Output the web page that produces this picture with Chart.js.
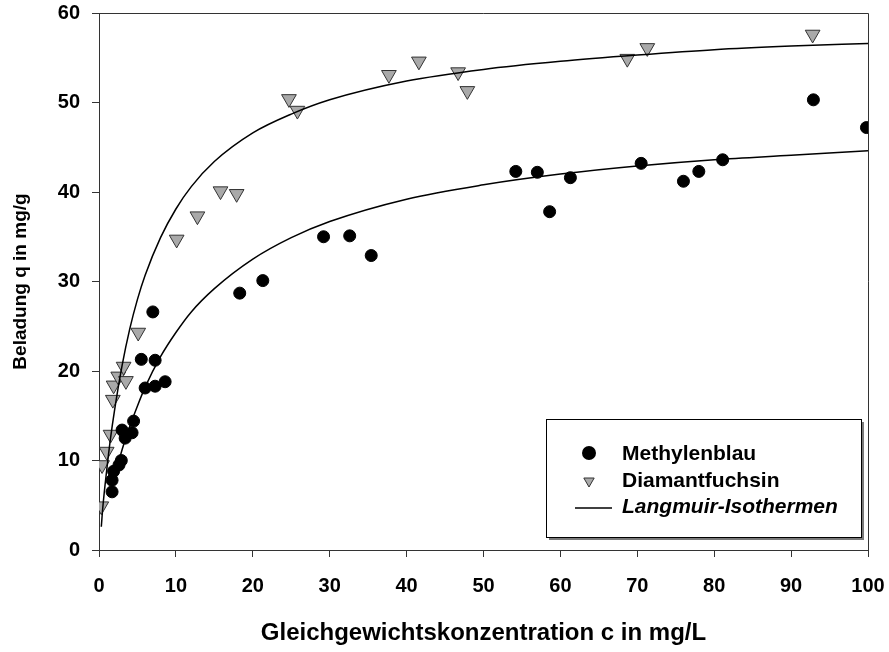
<!DOCTYPE html>
<html>
<head>
<meta charset="utf-8">
<script src="https://cdn.jsdelivr.net/npm/chart.js@4.4.1/dist/chart.umd.min.js"></script>
<style>
    html, body { margin: 0; padding: 0; background: #fff; }
    #wrap { width: 889px; height: 652px; }
</style>
</head>
<body>
<div id="wrap"><canvas id="myChart" width="889" height="652"></canvas></div>
<script>
// Messwerte Methylenblau
const mbC = [1.7, 1.7, 1.9, 2.6, 2.9, 3.4, 3.0, 4.3, 4.5, 5.5, 7.3, 6.0, 7.3, 8.6, 7.0,
             18.3, 21.3, 29.2, 32.6, 35.4, 54.2, 57.0, 58.6, 61.3, 70.5, 76.0, 78.0, 81.1, 92.9, 99.8];
const mbQ = [6.5, 7.8, 8.8, 9.5, 10.0, 12.5, 13.4, 13.1, 14.4, 21.3, 21.2, 18.1, 18.3, 18.8, 26.6,
             28.7, 30.1, 35.0, 35.1, 32.9, 42.3, 42.2, 37.8, 41.6, 43.2, 41.2, 42.3, 43.6, 50.3, 47.2];

// Messwerte Diamantfuchsin
const dfC = [0.3, 0.4, 1.0, 1.5, 1.8, 1.9, 2.5, 3.5, 3.2, 5.1, 10.1, 12.8, 15.8, 17.9,
             24.7, 25.8, 37.7, 41.6, 46.7, 47.9, 68.7, 71.3, 92.8];
const dfQ = [4.9, 9.5, 11.0, 12.9, 16.8, 18.4, 19.4, 18.9, 20.5, 24.3, 34.7, 37.3, 40.1, 39.8,
             50.4, 49.1, 53.1, 54.6, 53.4, 51.3, 54.9, 56.1, 57.6];

// Langmuir-Kurven
const fitMbC = [1.5, 2, 3, 4, 5, 6, 8, 10, 12, 15, 20, 25, 30, 40, 50, 60, 70, 80, 90, 100];
const fitMbQ = [6.3, 8.0, 11.2, 13.8, 16.1, 18.2, 21.6, 24.3, 26.6, 29.2, 32.5, 34.9, 36.7, 39.2, 40.8, 42.0, 42.9, 43.6, 44.1, 44.6];
const fitDfC = [0.3, 0.5, 1, 1.5, 2, 3, 4, 5, 6, 8, 10, 12, 15, 20, 25, 30, 40, 50, 60, 70, 80, 90, 100];
const fitDfQ = [2.6, 4.8, 8.9, 12.5, 15.5, 20.6, 24.7, 28.0, 30.7, 34.9, 38.1, 40.6, 43.4, 46.6, 48.7, 50.3, 52.4, 53.7, 54.6, 55.3, 55.9, 56.3, 56.6];

const legendLabels = ['Methylenblau', 'Diamantfuchsin', 'Langmuir-Isothermen'];
const xTitle = 'Gleichgewichtskonzentration c in mg/L';
const yTitle = 'Beladung q in mg/g';

const axisColor = '#333333';
const fontName = "'Liberation Sans', Arial, sans-serif";

function toPoints(xs, ys) {
    return xs.map((x, i) => ({x: x, y: ys[i]}));
}

// Rahmen oben/rechts
const frame = {
    id: 'frame',
    afterDraw(chart) {
        const {ctx, chartArea: a} = chart;
        ctx.save();
        ctx.strokeStyle = axisColor;
        ctx.lineWidth = 1;
        ctx.beginPath();
        ctx.moveTo(a.left, a.top + 0.5);
        ctx.lineTo(a.right + 0.5, a.top + 0.5);
        ctx.lineTo(a.right + 0.5, a.bottom);
        ctx.stroke();
        ctx.restore();
    }
};

// Legende im Diagramm
const legendBox = {
    id: 'legendBox',
    afterDraw(chart) {
        const ctx = chart.ctx;
        const ds = chart.data.datasets;
        ctx.save();
        ctx.fillStyle = '#7a7a7a';
        ctx.fillRect(549, 422, 315, 118);
        ctx.fillStyle = '#ffffff';
        ctx.fillRect(546, 419, 315, 118);
        ctx.strokeStyle = '#000';
        ctx.lineWidth = 1;
        ctx.strokeRect(546.5, 419.5, 315, 118);

        ctx.fillStyle = ds[0].backgroundColor;
        ctx.beginPath();
        ctx.arc(589, 453, 7, 0, Math.PI * 2);
        ctx.fill();

        ctx.fillStyle = ds[1].backgroundColor;
        ctx.strokeStyle = ds[1].borderColor;
        ctx.lineWidth = 1;
        Chart.helpers.drawPoint(ctx, {
            pointStyle: 'triangle', radius: 6, rotation: 180, borderWidth: 1
        }, 589, 481);

        ctx.strokeStyle = '#000';
        ctx.lineWidth = 1.5;
        ctx.beginPath();
        ctx.moveTo(575, 508);
        ctx.lineTo(612, 508);
        ctx.stroke();

        ctx.fillStyle = '#000';
        ctx.textBaseline = 'alphabetic';
        ctx.font = 'bold 21px ' + fontName;
        ctx.fillText(legendLabels[0], 622, 460);
        ctx.fillText(legendLabels[1], 622, 487);
        ctx.font = 'italic bold 21px ' + fontName;
        ctx.fillText(legendLabels[2], 622, 513);
        ctx.restore();
    }
};

const ctx = document.getElementById('myChart');

new Chart(ctx, {
    type: 'scatter',
    data: {
        datasets: [
            {
                label: legendLabels[0],
                data: toPoints(mbC, mbQ),
                pointStyle: 'circle',
                pointRadius: 6,
                borderWidth: 1,
                backgroundColor: '#000000',
                borderColor: '#000000',
                order: 2
            },
            {
                label: legendLabels[1],
                data: toPoints(dfC, dfQ),
                pointStyle: 'triangle',
                pointRotation: 180,
                pointRadius: 8.5,
                borderWidth: 1,
                backgroundColor: '#a9a9a9',
                borderColor: '#333333',
                order: 2
            },
            {
                label: legendLabels[2],
                data: toPoints(fitMbC, fitMbQ),
                showLine: true,
                pointRadius: 0,
                borderColor: '#000000',
                borderWidth: 1.5,
                cubicInterpolationMode: 'monotone',
                order: 1
            },
            {
                label: legendLabels[2],
                data: toPoints(fitDfC, fitDfQ),
                showLine: true,
                pointRadius: 0,
                borderColor: '#000000',
                borderWidth: 1.5,
                cubicInterpolationMode: 'monotone',
                order: 1
            }
        ]
    },
    options: {
        responsive: false,
        animation: false,
        layout: {
            padding: {top: 13, right: 21, left: 0, bottom: 0}
        },
        plugins: {
            legend: {display: false},
            tooltip: {enabled: false}
        },
        scales: {
            x: {
                type: 'linear',
                min: 0,
                max: 100,
                afterFit: s => {
                    s.height = 102;
                    s.paddingLeft = 0;
                    s.paddingRight = 0;
                },
                ticks: {
                    stepSize: 10,
                    color: '#000',
                    padding: 17,
                    maxRotation: 0,
                    font: {family: fontName, size: 20, weight: 'bold'}
                },
                grid: {
                    drawOnChartArea: false,
                    drawTicks: true,
                    tickLength: 7,
                    color: axisColor
                },
                border: {color: axisColor, width: 1},
                title: {
                    display: true,
                    text: xTitle,
                    color: '#000',
                    padding: {top: 0, bottom: 4},
                    font: {family: fontName, size: 24, weight: 'bold'}
                }
            },
            y: {
                min: 0,
                max: 60,
                afterFit: s => {
                    s.width = 99;
                    s.paddingTop = 0;
                    s.paddingBottom = 0;
                },
                ticks: {
                    stepSize: 10,
                    color: '#000',
                    padding: 12,
                    font: {family: fontName, size: 20, weight: 'bold'}
                },
                grid: {
                    drawOnChartArea: false,
                    drawTicks: true,
                    tickLength: 7,
                    color: axisColor
                },
                border: {color: axisColor, width: 1},
                title: {
                    display: true,
                    text: yTitle,
                    color: '#000',
                    padding: {top: 9, bottom: 0},
                    font: {family: fontName, size: 19, weight: 'bold'}
                }
            }
        }
    },
    plugins: [frame, legendBox]
});
</script>
</body>
</html>
